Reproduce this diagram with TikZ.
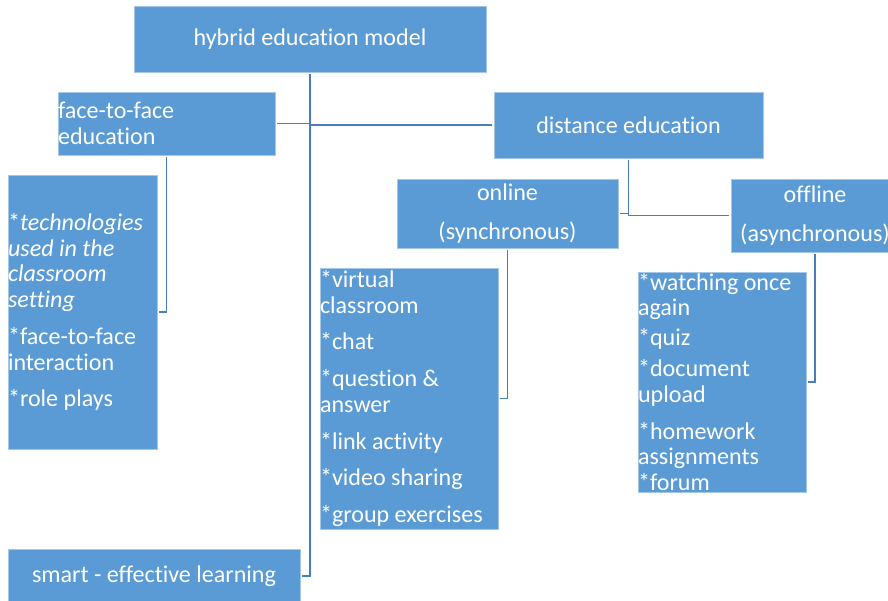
\documentclass[tikz,border=0pt]{standalone}
\usepackage{fontspec}
\setmainfont[Ligatures={NoCommon}]{Carlito}
\usepackage{tikz}
\usetikzlibrary{positioning}
\definecolor{boxblue}{HTML}{5B9BD5}
\definecolor{lineblue}{HTML}{4A7EBB}
\tikzstyle{block} = [draw=boxblue!55!white, fill=boxblue, rectangle, text=white, inner sep=0pt, outer sep=1.2pt, font=\fontsize{13.7}{14.7}\selectfont]
\tikzstyle{list} = [block, align=flush left]
\tikzstyle{link} = [draw=lineblue, line width=1.1pt]

\begin{document}
\begin{tikzpicture}[x=0.02cm, y=-0.02cm]
	  \useasboundingbox (0,0) rectangle (888,600);
	  \node [block, minimum width=7.04cm, minimum height=1.32cm] (hybrid) at (310,39) {hybrid education model};
	  \node [list, text width=4.34cm, minimum height=1.26cm] (ftf) at (166.5,123.5) {face-to-face\\education};
	  \node [block, minimum width=5.38cm, minimum height=1.32cm] (distance) at (628.5,125) {distance education};
	  \node [block, align=center, minimum width=4.42cm, minimum height=1.38cm] (online) at (507.5,213.5) {online\\[7.3pt](synchronous)};
	  \node [block, align=center, minimum width=3.36cm, minimum height=1.46cm] (offline) at (815,215.5) {offline\\[7.3pt](asynchronous)};
	
	  \node [list, text width=2.98cm, minimum height=5.48cm] (ftflist) at (82.5,312)
	    {*\textit{technologies}\\\textit{used in the}\\\textit{classroom}\\\textit{setting}\\[6.2pt]*face-to-face\\interaction\\[6.2pt]*role plays};
	  \node [list, text width=3.56cm, minimum height=5.22cm] (onlist) at (409,398.5)
	    {*virtual\\classroom\\[6.2pt]*chat\\[6.2pt]*question \&\\answer\\[6.2pt]*link activity\\[6.2pt]*video sharing\\[6.2pt]*group exercises};
	  \node [list, text width=3.36cm, minimum height=4.4cm] (offlist) at (722,382)
	    {*watching once\\again\\[2.3pt]*quiz\\[2.8pt]*document\\upload\\[6.2pt]*homework\\assignments\\{}*forum};
	  \node [block, minimum width=5.84cm, minimum height=1.08cm] (smart) at (154,576) {smart - effective learning};
	
	  \draw [link] (hybrid.south) |- (smart.east);
	  \draw [link] (ftf.east) -- (ftf.east -| hybrid.south);
	  \draw [link] (distance.west) -- (distance.west -| hybrid.south);
	  \draw [link] (ftf.south) |- (ftflist.east);
	  \draw [link] (distance.south) |- (offline.west);
	  \draw [link] (online.east) -- (online.east -| distance.south);
	  \draw [link] (online.south) |- (onlist.east);
	  \draw [link] (offline.south) |- (offlist.east);
\end{tikzpicture}
\end{document}
